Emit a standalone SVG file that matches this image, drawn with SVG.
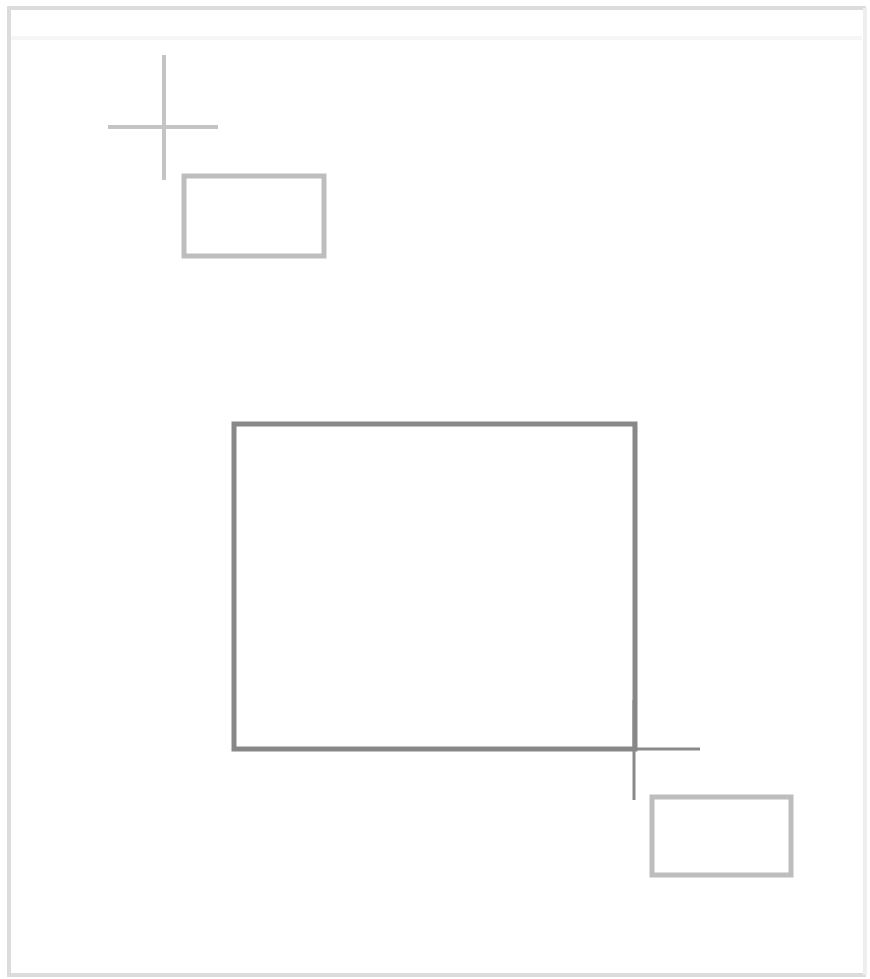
<svg xmlns="http://www.w3.org/2000/svg" width="870" height="979" viewBox="0 0 870 979">
<style>
.frame{fill:none;stroke:#dcdcdc;stroke-width:4}
.framel{fill:none;stroke:#eeeeee;stroke-width:4}
.faint{fill:none;stroke:#f6f6f6;stroke-width:4}
.light{fill:none;stroke:#bdbdbd;stroke-width:5}
.dark{fill:none;stroke:#888;stroke-width:5}
.cross{fill:none;stroke:#c4c4c4;stroke-width:4}
.crossd{fill:none;stroke:#8a8a8a;stroke-width:3}
</style>
<rect width="870" height="979" fill="#fff"/>
<g id="frame">
<line class="frame" x1="7" y1="8" x2="866" y2="8"/>
<line class="frame" x1="9" y1="8" x2="9" y2="977"/>
<line class="frame" x1="9" y1="975" x2="866" y2="975"/>
<line class="framel" x1="865" y1="8" x2="865" y2="975"/>
<line class="faint" x1="11" y1="38" x2="862" y2="38"/>
</g>
<g id="connectors">
<line class="cross" x1="164" y1="55" x2="164" y2="180"/>
<line class="cross" x1="108" y1="127" x2="218" y2="127"/>
<line class="crossd" x1="634" y1="700" x2="634" y2="800"/>
<line class="crossd" x1="600" y1="749" x2="700" y2="749"/>
</g>
<g id="node-small-top">
<rect class="light" x="184" y="176" width="140" height="80"/>
</g>
<g id="node-main">
<rect class="dark" x="234" y="424" width="401" height="325"/>
</g>
<g id="node-small-bottom">
<rect class="light" x="652" y="797" width="139" height="78"/>
</g>
</svg>
